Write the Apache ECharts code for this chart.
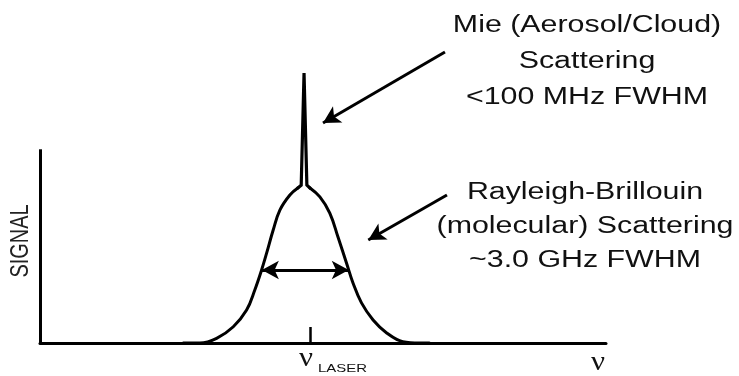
<!DOCTYPE html>
<html>
<head>
<meta charset="utf-8">
<title>Rayleigh-Brillouin and Mie scattering spectrum</title>
<script src="https://cdn.jsdelivr.net/npm/echarts@6/dist/echarts.min.js"></script>
<style>
  html, body { margin: 0; padding: 0; background: #fff; }
  #chart { width: 739px; height: 376px; }
</style>
</head>
<body>
<div id="chart"></div>
<script>
// Frequency offset from the laser line (GHz) and relative signal.
const freqMin = -9.36;
const freqMax = 10.64;
const signalMax = 175;
const yAxisTop = 100;
const laserTick = [0.18];

// Broad molecular (Rayleigh-Brillouin) line, left and right flanks.
const rbLeft = [
  [-4.3, 0], [-3.71, 0], [-3.12, 2.4], [-2.53, 8.4], [-2.06, 17.0],
  [-1.77, 27.4], [-1.53, 37.7], [-1.35, 46.5], [-1.12, 58.3],
  [-0.88, 68.7], [-0.53, 76.4], [-0.25, 80.0]
];
const rbRight = [
  [0.18, 80.0], [0.53, 75.4], [0.88, 67.1], [1.17, 54.7], [1.47, 41.3],
  [1.70, 31.0], [2.00, 20.7], [2.41, 11.9], [2.89, 5.2], [3.46, 0.7],
  [4.06, 0], [4.4, 0]
];
// Narrow aerosol/cloud (Mie) return on top of the molecular line.
const miePeak = [
  [-0.25, 80.0], [-0.13, 81.5], [-0.03, 139.4], [0.07, 81.5], [0.18, 80.0]
];

// Callout arrows: [start, tip] in (GHz, signal).
const mieArrow = [[4.95, 150.2], [0.64, 113.6]];
const rbArrow = [[5.02, 76.4], [2.24, 53.2]];
const fwhmArrow = [[-1.52, 37.7], [1.55, 37.7]];

const mieText = ['Mie (Aerosol/Cloud)', 'Scattering', '<100 MHz FWHM'];
const rbText = ['Rayleigh-Brillouin', '(molecular) Scattering', '~3.0 GHz FWHM'];

const font = '"Liberation Sans", Arial, Helvetica, sans-serif';
const serif = '"Liberation Serif", "Times New Roman", serif';
const ink = '#000';
const traceStyle = { color: ink, width: 3, join: 'round', cap: 'round' };

const chart = echarts.init(document.getElementById('chart'), null, { renderer: 'canvas' });

chart.setOption({
  animation: false,
  backgroundColor: '#fff',
  grid: { left: 40, right: 133, top: 4, bottom: 33, containLabel: false },
  xAxis: {
    type: 'value',
    min: freqMin,
    max: freqMax,
    axisLine: { show: true, onZero: false, lineStyle: { color: ink, width: 3 } },
    axisTick: {
      show: true, inside: true, length: 16, customValues: laserTick,
      lineStyle: { color: ink, width: 2.5 }
    },
    axisLabel: { show: false },
    splitLine: { show: false }
  },
  yAxis: {
    type: 'value',
    min: 0,
    max: signalMax,
    show: false
  },
  series: [
    {
      name: 'Rayleigh-Brillouin (low side)',
      type: 'line',
      data: rbLeft,
      smooth: 0.4,
      showSymbol: false,
      silent: true,
      lineStyle: traceStyle,
      markLine: {
        silent: true,
        symbol: ['none', 'none'],
        label: { show: false },
        lineStyle: { type: 'solid', color: ink, width: 3 },
        data: [[{ coord: [freqMin, 0] }, { coord: [freqMin, yAxisTop] }]]
      }
    },
    {
      name: 'Mie',
      type: 'line',
      data: miePeak,
      smooth: false,
      showSymbol: false,
      silent: true,
      lineStyle: Object.assign({}, traceStyle, { join: 'miter', width: 3.2 })
    },
    {
      name: 'Rayleigh-Brillouin (high side)',
      type: 'line',
      data: rbRight,
      smooth: 0.4,
      showSymbol: false,
      silent: true,
      lineStyle: traceStyle,
      markLine: {
        silent: true,
        symbol: ['none', 'arrow'],
        symbolSize: [14, 17],
        label: { show: false },
        lineStyle: { type: 'solid', color: ink, width: 3 },
        data: [
          [{ coord: mieArrow[0] }, { coord: mieArrow[1] }],
          [{ coord: rbArrow[0] }, { coord: rbArrow[1] }],
          [{ coord: fwhmArrow[0], symbol: 'arrow' }, { coord: fwhmArrow[1] }]
        ]
      }
    }
  ],
  graphic: [
    {
      type: 'text', x: 587, y: 8, scaleX: 1.32, silent: true,
      style: {
        text: mieText.join('\n'), fill: '#111',
        fontSize: 23, fontFamily: font, lineHeight: 36,
        textAlign: 'center', textVerticalAlign: 'top'
      }
    },
    {
      type: 'text', x: 585, y: 176, scaleX: 1.32, silent: true,
      style: {
        text: rbText.join('\n'), fill: '#111',
        fontSize: 23, fontFamily: font, lineHeight: 34,
        textAlign: 'center', textVerticalAlign: 'top'
      }
    },
    {
      type: 'text', x: 21, y: 241, rotation: Math.PI / 2, scaleX: 1.05, scaleY: 1.35, silent: true,
      style: {
        text: 'SIGNAL', fill: '#222', fontSize: 19, fontFamily: font,
        textAlign: 'center', textVerticalAlign: 'middle'
      }
    },
    {
      type: 'text', x: 306, y: 359, scaleX: 1.15, silent: true,
      style: {
        text: 'ν', fill: '#111', fontSize: 27, fontFamily: serif,
        textAlign: 'center', textVerticalAlign: 'middle'
      }
    },
    {
      type: 'text', x: 318, y: 375, scaleX: 1.3, silent: true,
      style: {
        text: 'LASER', fill: '#111', fontSize: 11.5, fontFamily: font,
        textAlign: 'left', textVerticalAlign: 'bottom'
      }
    },
    {
      type: 'text', x: 598, y: 363, scaleX: 1.15, silent: true,
      style: {
        text: 'ν', fill: '#111', fontSize: 27, fontFamily: serif,
        textAlign: 'center', textVerticalAlign: 'middle'
      }
    }
  ]
});
</script>
</body>
</html>
